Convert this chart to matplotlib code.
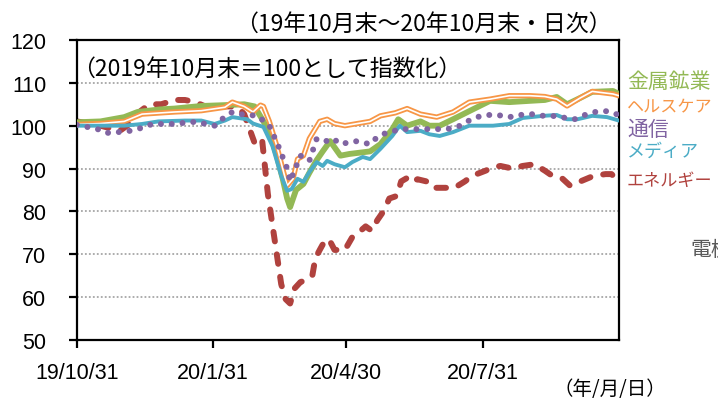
import matplotlib
matplotlib.use("Agg")
import matplotlib.pyplot as plt
import pandas as pd

start = pd.Timestamp("2019-10-31")
end = pd.Timestamp("2020-10-31")

# days after 2019/10/31 and index values (2019/10 end = 100)
metal_days = [0, 16, 32, 41, 56, 66, 84, 100, 113, 120, 126, 130, 135, 139, 142, 144, 148, 153, 157, 162,
              166, 171, 178, 184, 198, 205, 213, 217, 223, 232, 238, 245, 254, 265, 279, 292, 306, 316, 324, 331,
              340, 348, 362, 366]
metal = [100.8, 101, 102, 103.2, 103.8, 104, 104.6, 104.8, 105, 104.5, 101, 98.5, 93, 87.6, 83, 81, 85, 86.4, 89, 92,
         94, 96.4, 93, 93.4, 94, 95.7, 99.2, 101.5, 100, 101, 100, 100, 101.5, 103.4, 105.8, 105.5, 105.8, 106, 106.7, 105,
         106.5, 107.9, 108.1, 107.4]

health_days = [0, 16, 32, 44, 66, 84, 100, 105, 113, 119, 124, 126, 130, 135, 139, 142, 146, 149, 153, 157,
               164, 169, 174, 181, 198, 205, 215, 223, 232, 243, 254, 265, 279, 292, 306, 316, 324, 331, 340, 348,
               362, 366]
health = [100.3, 100.5, 101, 102.7, 103.2, 103.5, 104.3, 105.5, 104.5, 103.2, 104.8, 104.5, 101, 95.3, 90, 86, 87.6, 92.2, 93, 97,
          101, 101.5, 100.5, 100, 101, 102.3, 103, 104, 102.7, 102, 103.2, 105.5, 106.2, 107, 107, 106.8, 106.2, 104.6, 106.5, 108,
          107.4, 107]

telecom_days = [0, 14, 20, 28, 36, 44, 51, 64, 80, 93, 99, 105, 110, 122, 130, 136, 142, 144, 151, 157,
                162, 169, 173, 178, 188, 198, 203, 210, 220, 236, 250, 257, 263, 270, 277, 284, 292, 299, 307, 315,
                321, 336, 343, 350, 358, 366]
telecom = [100.2, 99.2, 98.3, 98.5, 98.8, 99.5, 100.4, 100.4, 100.9, 100, 101.8, 103.2, 102.7, 102.3, 100, 95.3, 90, 87, 93, 91.8,
           97, 96.4, 97, 95.7, 96.4, 95.7, 97.4, 98.5, 99.2, 99.2, 99.2, 99.7, 100.9, 102, 102.5, 102.5, 102, 102.5, 102.7, 102.3,
           102.3, 101.5, 102.5, 103.2, 103.4, 102.5]

media_days = [0, 32, 44, 55, 73, 84, 93, 100, 105, 115, 119, 126, 132, 138, 142, 145, 149, 153, 157, 162,
              166, 169, 174, 181, 186, 193, 198, 205, 213, 218, 223, 232, 238, 245, 254, 265, 281, 292, 301, 315,
              324, 331, 338, 348, 358, 366]
media = [100, 100, 100.4, 101, 101.2, 101.2, 100.4, 101.2, 102, 101.5, 100.5, 99.7, 95.3, 88.3, 84.8, 85.2, 87.6, 86.9, 89.2, 91.5,
         90.6, 91.8, 91, 90.3, 91.5, 92.7, 92.2, 94.6, 97.6, 100, 98.5, 98.8, 98, 97.6, 98.5, 100, 100, 100.4, 101.8, 102.3,
         102.5, 101.5, 101.5, 102.3, 102, 101.2]

energy_days = [0, 16, 29, 36, 43, 49, 57, 66, 73, 80, 90, 100, 108, 113, 120, 125, 129, 132, 135, 138,
               141, 144, 147, 151, 155, 159, 161, 164, 168, 171, 174, 181, 186, 190, 195, 199, 203, 207, 211, 216,
               219, 224, 227, 230, 236, 240, 245, 255, 262, 267, 276, 281, 286, 294, 301, 309, 316, 321, 328, 333,
               340, 349, 357, 361, 366]
energy = [101, 100, 98.8, 100.5, 103.4, 105, 105, 106, 106, 105.5, 104, 104.5, 104.5, 102.7, 96, 97, 84, 77, 70, 63,
          59.5, 58.5, 62, 63.5, 64, 65, 69, 71, 73.5, 73, 71, 71, 74, 75, 76.5, 75.5, 78, 80, 83, 83.6,
          87, 88, 87, 87.5, 87, 85.5, 85.5, 85.5, 87, 88.3, 89.5, 90.3, 90.6, 90, 90.6, 91, 89.5, 88.3, 87.6, 86,
          87, 88.3, 88.7, 88.7, 87]

tick_dates = ["2019-10-31", "2020-01-31", "2020-04-30", "2020-07-31"]
tick_labels = ["19/10/31", "20/1/31", "20/4/30", "20/7/31"]

names = ["金属鉱業", "ヘルスケア", "通信", "メディア", "エネルギー"]
colors = ["#93B955", "#F79646", "#8064A2", "#4BACC6", "#B0423E"]

jp = ["Noto Sans CJK JP", "DejaVu Sans"]
plt.rcParams["font.family"] = ["Liberation Sans", "Noto Sans CJK JP", "DejaVu Sans"]


def to_dates(days):
    return start + pd.to_timedelta(days, unit="D")


fig = plt.figure(figsize=(7.18, 4.02), dpi=100)
ax = fig.add_axes([0.107, 0.152, 0.755, 0.746])

ax.plot(to_dates(energy_days), energy, color=colors[4], lw=4.3,
        linestyle=(0, (1.6, 2.2)), dash_capstyle="round", zorder=2)
ax.plot(to_dates(metal_days), metal, color=colors[0], lw=4.2, zorder=3)
ax.plot(to_dates(health_days), health, color=colors[1], lw=3.8, zorder=4)
ax.plot(to_dates(health_days), health, color="white", lw=1.2, zorder=4)
ax.plot(to_dates(media_days), media, color=colors[3], lw=2.8, zorder=5)
ax.plot(to_dates(telecom_days), telecom, color=colors[2], lw=4.3,
        linestyle=(0, (0.01, 1.8)), dash_capstyle="round", zorder=6)

ax.set_xlim(start, end)
ax.set_ylim(50, 120)
ax.set_yticks(range(50, 121, 10))
ax.set_xticks(pd.to_datetime(tick_dates))
ax.set_xticklabels(tick_labels)
ax.yaxis.grid(True, color="#A6A6A6", linestyle=(0, (1, 1.2)), lw=1.3)
ax.set_axisbelow(True)

for s in ax.spines.values():
    s.set_linewidth(1.6)
    s.set_color("black")
ax.tick_params(axis="y", direction="out", length=6, width=1.6, pad=16, labelsize=15.5)
ax.tick_params(axis="x", direction="out", length=6, width=1.6, pad=10, labelsize=15.5)

fig.text(612 / 718, 1 - 24 / 402, "（19年10月末～20年10月末・日次）", family=jp,
         fontsize=16.5, ha="right", va="center")
fig.text(72 / 718, 1 - 69 / 402, "（2019年10月末＝100として指数化）", family=jp,
         fontsize=16.5, ha="left", va="center")
fig.text(610 / 718, 1 - 390 / 402, "（年/月/日）", family=jp,
         fontsize=14, ha="center", va="center")

label_y = [82, 107, 130, 152, 181]
label_size = [15, 12.3, 15, 13, 12.3]
for name, c, y, fs in zip(names, colors, label_y, label_size):
    fig.text(627 / 718, 1 - y / 402, name, family=jp, color=c,
             fontsize=fs, ha="left", va="center")
fig.text(690 / 718, 1 - 250 / 402, "電機・精密", family=jp, color="#595959",
         fontsize=15, ha="left", va="center")

fig.savefig("out.png", dpi=100)
